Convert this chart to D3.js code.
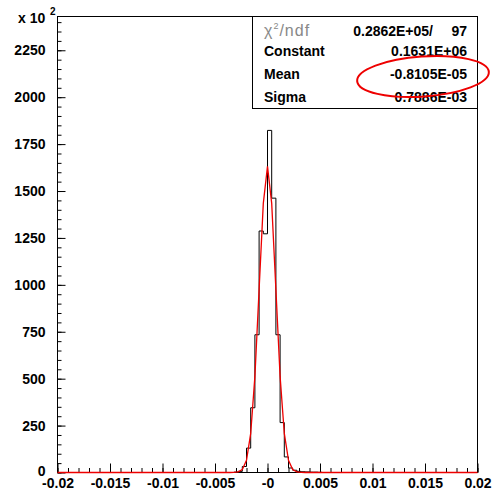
<!DOCTYPE html>
<html lang="en">
<head>
<meta charset="utf-8">
<script src="https://d3js.org/d3.v7.min.js"></script>
<style>
  body { margin: 0; padding: 0; background: #fff; }
  svg text { font-family: "Liberation Sans", Arial, sans-serif; }
</style>
</head>
<body>
<svg id="chart" width="492" height="491"></svg>
<script>
// histogram: lower bin edge and content (units of 10^2), bin width 0.0004
var binWidth = 0.0004;
var binLow = [-0.0032, -0.0028, -0.0024, -0.002, -0.0016, -0.0012, -0.0008, -0.0004,
              0, 0.0004, 0.0008, 0.0012, 0.0016, 0.002, 0.0024, 0.0028, 0.0032,
              0.0036, 0.004, 0.0044, 0.0048];
var binCount = [2, 6, 32, 130, 345, 734, 1287, 1272,
                1823, 1462, 734, 266, 83, 24, 12, 6, 4,
                3, 2, 2, 1];

// red fit curve
var fitX = [-0.02, -0.0036, -0.0032, -0.0028, -0.0024, -0.002, -0.0016, -0.0012, -0.0008, -0.0004,
            0, 0.0004, 0.0008, 0.0012, 0.0016, 0.002, 0.0024, 0.0028, 0.0032, 0.0036, 0.02];
var fitY = [0, 0, 0.4, 3, 16, 65, 208, 512, 975, 1434,
            1631, 1434, 975, 512, 208, 65, 16, 3, 0.4, 0, 0];

var xTickValues = [-0.02, -0.015, -0.01, -0.005, 0, 0.005, 0.01, 0.015, 0.02];
var xTickLabels = ["-0.02", "-0.015", "-0.01", "-0.005", "-0", "0.005", "0.01", "0.015", "0.02"];
var yTickValues = [0, 250, 500, 750, 1000, 1250, 1500, 1750, 2000, 2250];

var statNames = ["Constant", "Mean", "Sigma"];
var statValues = ["0.1631E+06", "-0.8105E-05", "0.7886E-03"];
var chiValue = "0.2862E+05/";
var ndfValue = "97";

var svg = d3.select("#chart");

var x = d3.scaleLinear().domain([-0.02, 0.02]).range([57.5, 477.5]);
var y = d3.scaleLinear().domain([0, 2430]).range([472.5, 16.5]);

svg.append("rect").attr("width", 492).attr("height", 491).attr("fill", "#fff");

// minor ticks
var xMinor = d3.range(-20, 21).map(function (i) { return i / 1000; });
var yMinor = d3.range(0, 2451, 50);

var gxMinor = svg.append("g").attr("transform", "translate(0,472.5)")
    .call(d3.axisBottom(x).tickValues(xMinor).tickSize(-4.5).tickFormat(""));
var gyMinor = svg.append("g").attr("transform", "translate(57.5,0)")
    .call(d3.axisLeft(y).tickValues(yMinor.filter(function (d) { return d <= 2430; })).tickSize(-4).tickFormat(""));

// major ticks with labels
var gx = svg.append("g").attr("transform", "translate(0,472.5)")
    .call(d3.axisBottom(x).tickValues(xTickValues).tickSize(-9).tickPadding(6)
        .tickFormat(function (d, i) { return xTickLabels[i]; }));
var gy = svg.append("g").attr("transform", "translate(57.5,0)")
    .call(d3.axisLeft(y).tickValues(yTickValues).tickSize(-8).tickPadding(12)
        .tickFormat(d3.format("d")));

[gxMinor, gyMinor, gx, gy].forEach(function (g) {
    g.select(".domain").remove();
    g.selectAll("line").attr("stroke", "#000");
    g.selectAll("text").attr("font-size", 14).attr("font-weight", "bold")
        .attr("font-family", '"Liberation Sans", Arial, sans-serif').attr("fill", "#000");
});
// nudge the "0" label up so it clears "-0.02"
gy.selectAll(".tick text").filter(function (d) { return d === 0; }).attr("dy", "0.18em");

// frame
svg.append("rect")
    .attr("x", x(-0.02)).attr("y", y(2430))
    .attr("width", x(0.02) - x(-0.02)).attr("height", y(0) - y(2430))
    .attr("fill", "none").attr("stroke", "#000");

// histogram step line
var histPts = [[-0.02, 0], [binLow[0], 0]];
binLow.forEach(function (lo, i) {
    histPts.push([lo, binCount[i]]);
    histPts.push([lo + binWidth, binCount[i]]);
});
histPts.push([binLow[binLow.length - 1] + binWidth, 0]);
histPts.push([0.02, 0]);

var line = d3.line()
    .x(function (d) { return x(d[0]); })
    .y(function (d) { return y(d[1]); });

svg.append("path").datum(histPts)
    .attr("d", line)
    .attr("fill", "none").attr("stroke", "#000").attr("stroke-width", 1);

// fit
svg.append("path").datum(fitX.map(function (v, i) { return [v, fitY[i]]; }))
    .attr("d", line)
    .attr("fill", "none").attr("stroke", "#e00").attr("stroke-width", 1.3);

// x 10^2
svg.append("text").attr("x", 18).attr("y", 23)
    .attr("font-size", 14).attr("font-weight", "bold").text("x 10");
svg.append("text").attr("x", 50).attr("y", 15)
    .attr("font-size", 10).attr("font-weight", "bold").text("2");

// stats box
var box = svg.append("g");
box.append("rect")
    .attr("x", 252.5).attr("y", 16.5).attr("width", 225).attr("height", 92)
    .attr("fill", "#fff").attr("stroke", "#000");

var chi = box.append("text").attr("x", 264).attr("y", 36)
    .attr("font-size", 16).attr("fill", "#888").attr("letter-spacing", 1);
chi.append("tspan").text("χ");
chi.append("tspan").attr("font-size", 9).attr("dy", -7).text("2");
chi.append("tspan").attr("dy", 7).text("/ndf");

box.append("text").attr("x", 433).attr("y", 36).attr("text-anchor", "end")
    .attr("font-size", 14).attr("font-weight", "bold").text(chiValue);
box.append("text").attr("x", 467).attr("y", 36).attr("text-anchor", "end")
    .attr("font-size", 14).attr("font-weight", "bold").text(ndfValue);

var rowY = [56, 79, 102];
statNames.forEach(function (n, i) {
    box.append("text").attr("x", 264).attr("y", rowY[i])
        .attr("font-size", 14).attr("font-weight", "bold").text(n);
    box.append("text").attr("x", 467).attr("y", rowY[i]).attr("text-anchor", "end")
        .attr("font-size", 14).attr("font-weight", "bold").text(statValues[i]);
});

// red ellipse around Mean
svg.append("ellipse")
    .attr("cx", 0).attr("cy", 0).attr("rx", 66).attr("ry", 20)
    .attr("transform", "translate(423,76.5) rotate(-4)")
    .attr("fill", "none").attr("stroke", "#e00").attr("stroke-width", 2);
</script>
</body>
</html>
